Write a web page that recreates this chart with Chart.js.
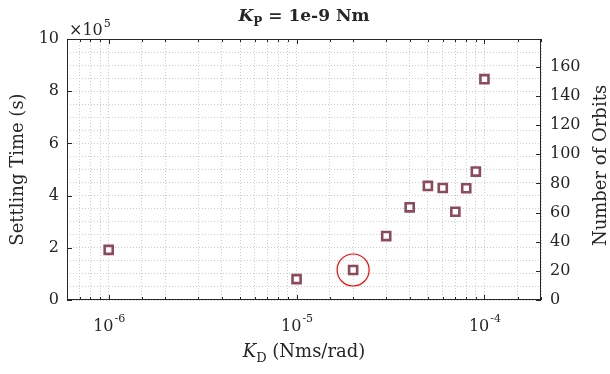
<!DOCTYPE html>
<html>
<head>
<meta charset="utf-8">
<script src="https://cdn.jsdelivr.net/npm/chart.js@4.4.1/dist/chart.umd.min.js"></script>
<style>
  body { margin: 0; background: #fff; }
</style>
</head>
<body>
<canvas id="chart" width="610" height="374"></canvas>
<script>
// K_D gains (Nms/rad) and settling times (s)
const kd = [1e-6, 1e-5, 2e-5, 3e-5, 4e-5, 5e-5, 6e-5, 7e-5, 8e-5, 9e-5, 1e-4];
const settlingTime = [1.92e5, 0.80e5, 1.15e5, 2.45e5, 3.55e5, 4.37e5, 4.29e5, 3.38e5, 4.28e5, 4.92e5, 8.46e5];
// highlighted run (red circle)
const highlightKd = [2e-5];
const highlightTime = [1.15e5];
// axis ticks
const xTickPowers = [-6, -5, -4];
const yMajorTicks = [0, 2e5, 4e5, 6e5, 8e5, 10e5];
const orbitTicks = [0, 20, 40, 60, 80, 100, 120, 140, 160];

const textColor = '#262626';
const font = '"DejaVu Serif", serif';

function isPow10(v) {
  const l = Math.log10(v);
  return Math.abs(l - Math.round(l)) < 1e-6;
}

const decorations = {
  id: 'decorations',
  afterDraw(chart) {
    const ctx = chart.ctx;
    const a = chart.chartArea;
    const x = chart.scales.x, y = chart.scales.y, y2 = chart.scales.y2;
    ctx.save();
    ctx.strokeStyle = textColor;
    ctx.lineWidth = 1;

    const seg = (x1, y1, x2, y2_) => {
      ctx.beginPath(); ctx.moveTo(x1, y1); ctx.lineTo(x2, y2_); ctx.stroke();
    };

    // box
    ctx.strokeRect(a.left + 0.5, a.top + 0.5, a.right - a.left - 1, a.bottom - a.top - 1);

    // inward x ticks, top and bottom
    x.ticks.forEach(t => {
      const px = Math.round(x.getPixelForValue(t.value)) + 0.5;
      const len = isPow10(t.value) ? 5 : 3;
      seg(px, a.bottom, px, a.bottom - len);
      seg(px, a.top, px, a.top + len);
    });
    // left ticks
    yMajorTicks.forEach(v => {
      const py = Math.round(y.getPixelForValue(v)) + 0.5;
      seg(a.left, py, a.left + 5, py);
    });
    // right ticks
    orbitTicks.forEach(v => {
      const py = Math.round(y2.getPixelForValue(v)) + 0.5;
      seg(a.right, py, a.right - 5, py);
    });

    ctx.fillStyle = textColor;
    ctx.textBaseline = 'alphabetic';
    ctx.textAlign = 'left';

    // x tick labels 10^p
    xTickPowers.forEach(p => {
      const px = x.getPixelForValue(Math.pow(10, p));
      ctx.font = '16px ' + font;
      const w1 = ctx.measureText('10').width;
      ctx.font = '11px ' + font;
      const sup = '-' + Math.abs(p);
      const w2 = ctx.measureText(sup).width;
      const start = px - (w1 + w2) / 2;
      ctx.font = '16px ' + font;
      ctx.fillText('10', start, 331);
      ctx.font = '11px ' + font;
      ctx.fillText(sup, start + w1 + 1, 322);
    });

    // x10^5 exponent label
    ctx.font = '16px ' + font;
    ctx.fillText('\u00d710', a.left + 2, 35);
    const wx = ctx.measureText('\u00d710').width;
    ctx.font = '11px ' + font;
    ctx.fillText('5', a.left + 2 + wx + 1, 27);

    // rich text helper: parts [{t, f, dy}]
    const rich = (parts, cx, by) => {
      let total = 0;
      parts.forEach(p => { ctx.font = p.f; p.w = ctx.measureText(p.t).width; total += p.w; });
      let xx = cx - total / 2;
      parts.forEach(p => { ctx.font = p.f; ctx.fillText(p.t, xx, by + (p.dy || 0)); xx += p.w; });
    };
    const midX = (a.left + a.right) / 2;

    // title
    rich([
      {t: 'K', f: 'bold italic 17px ' + font},
      {t: 'P', f: 'bold 12px ' + font, dy: 5},
      {t: ' = 1e-9 Nm', f: 'bold 17px ' + font}
    ], midX, 21);

    // x axis title
    rich([
      {t: 'K', f: 'italic 18px ' + font},
      {t: 'D', f: '13px ' + font, dy: 5},
      {t: ' (Nms/rad)', f: '18px ' + font}
    ], midX, 357);

    // y axis titles
    const midY = (a.top + a.bottom) / 2;
    ctx.font = '18px ' + font;
    ctx.textAlign = 'center';
    ctx.save();
    ctx.translate(23, midY);
    ctx.rotate(-Math.PI / 2);
    ctx.fillText('Settling Time (s)', 0, 0);
    ctx.restore();
    ctx.save();
    ctx.translate(606, midY - 4);
    ctx.rotate(-Math.PI / 2);
    ctx.fillText('Number of Orbits', 0, 0);
    ctx.restore();

    ctx.restore();
  }
};

const ctx = document.getElementById('chart').getContext('2d');

new Chart(ctx, {
  type: 'scatter',
  data: {
    datasets: [{
      label: 'Highlighted',
      data: highlightKd.map((v, i) => ({x: v, y: highlightTime[i]})),
      pointStyle: 'circle',
      pointRadius: 16,
      borderColor: '#ff0000',
      borderWidth: 1.2,
      backgroundColor: 'rgba(0,0,0,0)',
      yAxisID: 'y'
    },
    {
      label: 'Settling time',
      data: kd.map((v, i) => ({x: v, y: settlingTime[i]})),
      pointStyle: 'rect',
      pointRadius: 5.7,
      borderColor: '#8c4b5a',
      borderWidth: 2.6,
      backgroundColor: '#ffffff',
      yAxisID: 'y'
    }]
  },
  options: {
    responsive: false,
    animation: false,
    devicePixelRatio: 1,
    layout: { padding: { top: 39, left: 0, right: 0, bottom: 0 } },
    plugins: {
      legend: { display: false },
      tooltip: { enabled: false }
    },
    scales: {
      x: {
        type: 'logarithmic',
        min: 6e-7,
        max: 2e-4,
        border: { display: false, dash: [1, 2] },
        grid: { color: '#cccccc', drawTicks: false },
        ticks: { display: false },
        afterFit: s => { s.height = 74; }
      },
      y: {
        position: 'left',
        min: 0,
        max: 1e6,
        border: { display: false, dash: [1, 2] },
        grid: { color: '#cccccc', drawTicks: false },
        ticks: {
          stepSize: 5e4,
          autoSkip: false,
          padding: 8,
          color: textColor,
          font: { family: font, size: 16 },
          callback: v => (Math.round(v / 1e4) % 20 === 0) ? String(Math.round(v / 1e5)) : ''
        },
        afterFit: s => { s.width = 67; }
      },
      y2: {
        position: 'right',
        min: 0,
        max: 179,
        border: { display: false },
        grid: { drawOnChartArea: false, drawTicks: false },
        ticks: {
          stepSize: 20,
          autoSkip: false,
          padding: 9,
          color: textColor,
          font: { family: font, size: 16 },
          callback: v => (v % 20 === 0) ? String(v) : ''
        },
        afterFit: s => { s.width = 69; }
      }
    }
  },
  plugins: [decorations]
});
</script>
</body>
</html>
